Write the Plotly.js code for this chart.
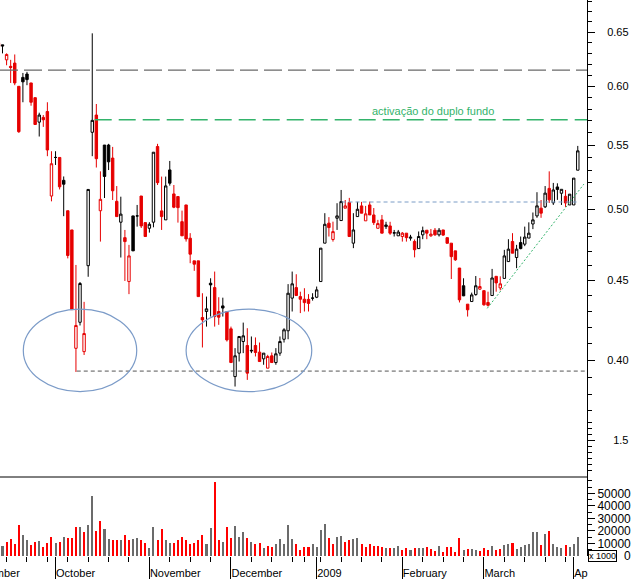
<!DOCTYPE html>
<html><head><meta charset="utf-8">
<script src="https://cdn.plot.ly/plotly-3.0.1.min.js"></script>
<style>html,body{margin:0;padding:0;background:#fff;}#chart{width:633px;height:579px;}</style>
</head><body><div id="chart"></div>
<script>
// trading days
const dates = [
'2008-09-11','2008-09-12','2008-09-15','2008-09-16','2008-09-17','2008-09-18','2008-09-19','2008-09-22','2008-09-23','2008-09-24','2008-09-25','2008-09-26','2008-09-29','2008-09-30',
'2008-10-01','2008-10-02','2008-10-03','2008-10-06','2008-10-07','2008-10-08','2008-10-09','2008-10-10','2008-10-13','2008-10-14','2008-10-15','2008-10-16','2008-10-17','2008-10-20','2008-10-21','2008-10-22','2008-10-23','2008-10-24','2008-10-27','2008-10-28','2008-10-29','2008-10-30','2008-10-31',
'2008-11-03','2008-11-04','2008-11-05','2008-11-06','2008-11-07','2008-11-10','2008-11-11','2008-11-12','2008-11-13','2008-11-14','2008-11-17','2008-11-18','2008-11-19','2008-11-20','2008-11-21','2008-11-24','2008-11-25','2008-11-26','2008-11-27','2008-11-28',
'2008-12-01','2008-12-02','2008-12-03','2008-12-04','2008-12-05','2008-12-08','2008-12-09','2008-12-10','2008-12-11','2008-12-12','2008-12-15','2008-12-16','2008-12-17','2008-12-18','2008-12-19','2008-12-22','2008-12-23','2008-12-24','2008-12-29','2008-12-30','2008-12-31',
'2009-01-02','2009-01-05','2009-01-06','2009-01-07','2009-01-08','2009-01-09','2009-01-12','2009-01-13','2009-01-14','2009-01-15','2009-01-16','2009-01-19','2009-01-20','2009-01-21','2009-01-22','2009-01-23','2009-01-26','2009-01-27','2009-01-28','2009-01-29','2009-01-30',
'2009-02-02','2009-02-03','2009-02-04','2009-02-05','2009-02-06','2009-02-09','2009-02-10','2009-02-11','2009-02-12','2009-02-13','2009-02-16','2009-02-17','2009-02-18','2009-02-19','2009-02-20','2009-02-23','2009-02-24','2009-02-25','2009-02-26','2009-02-27',
'2009-03-02','2009-03-03','2009-03-04','2009-03-05','2009-03-06','2009-03-09','2009-03-10','2009-03-11','2009-03-12','2009-03-13','2009-03-16','2009-03-17','2009-03-18','2009-03-19','2009-03-20','2009-03-23','2009-03-24','2009-03-25','2009-03-26','2009-03-27','2009-03-30','2009-03-31',
'2009-04-01','2009-04-02'];

const open = [.640,
.638,.624,.618,.621,.600,.608,.611,.603,.590,.569,
.573,.578,.510,.540,.540,.522,.499,.485,.407,.423,
.405,.460,.5605,.575,.499,.550,.550,.5395,.506,.4906,
.4795,.4493,.4952,.4952,.510,.4903,.4862,.4906,.5488,.4989,
.4923,.5301,.5116,.5096,.4910,.5033,.4791,.4633,.4633,.426,
.4298,.4482,.4453,.4298,.4334,.4298,.4189,.3903,.4041,.4111,
.4087,.4058,.4087,.4047,.4007,.3952,.4025,.3985,.4041,.4125,
.4177,.4384,.4453,.4394,.4377,.4376,.4384,.439,.4493,.4756,
.4899,.4782,.4935,.4918,.5009,.5051,.4756,.4947,.5026,.4916,
.5033,.4959,.4862,.4923,.4874,.4879,.4827,.4808,.4803,.4827,
.4791,.4768,.4718,.4815,.4848,.4808,.4848,.4815,.485,.4795,
.4756,.4702,.4584,.4465,.4345,.4362,.4407,.4443,.4433,.4356,
.4401,.4528,.4451,.4514,.4628,.4768,.4656,.476,.4749,.4792,
.4893,.4952,.5009,.5019,.5158,.5049,.5169,.5121,.5098,.5033,
.5033,.5299];
const high = [.642,
.638,.630,.624,.629,.600,.612,.613,.603,.590,.577,
.575,.586,.545,.545,.540,.525,.499,.485,.4605,.449,
.436,.515,.649,.5845,.529,.550,.551,.5485,.5176,.5095,
.485,.4744,.4952,.5033,.510,.4903,.4906,.5442,.551,.5249,
.5249,.5372,.5184,.5096,.4991,.5033,.4827,.4633,.4633,.4416,
.4394,.4515,.456,.439,.4387,.4298,.4203,.4071,.4142,.4228,
.4193,.4142,.4136,.4105,.4041,.4031,.4045,.4071,.4142,.4193,
.4476,.456,.4542,.4426,.4449,.441,.4416,.446,.4721,.4972,
.4943,.491,.5046,.5146,.507,.5086,.4972,.5056,.5056,.5026,
.5058,.501,.4923,.4959,.4909,.4909,.485,.485,.4835,.4827,
.4815,.4782,.4839,.4874,.4848,.4857,.4864,.4864,.485,.4795,
.4756,.4702,.4584,.4515,.4345,.442,.453,.4517,.4433,.4426,
.4578,.4528,.4528,.4709,.4784,.4827,.4744,.4803,.4874,.4905,
.4977,.5129,.507,.5176,.529,.52,.5197,.5151,.5146,.5114,
.5237,.5493];
const low = [.630,
.630,.619,.603,.601,.560,.586,.601,.583,.567,.557,
.565,.541,.506,.534,.515,.495,.465,.431,.393,.421,
.403,.4525,.541,.532,.4767,.5085,.530,.507,.4947,.4656,
.4497,.441,.4702,.4874,.4864,.4803,.4831,.4869,.5184,.485,
.4923,.5179,.5009,.4903,.4808,.4767,.4617,.4565,.4394,.4075,
.4203,.4266,.4203,.4214,.4266,.4111,.3985,.3846,.3991,.4041,
.3884,.4041,.4021,.3991,.3972,.3952,.3985,.3972,.4025,.4105,
.4125,.4298,.4401,.4288,.4298,.4298,.4368,.4384,.4493,.4756,
.4803,.4767,.485,.4918,.5009,.4803,.4721,.4947,.4972,.4916,
.4959,.4886,.4862,.4827,.4857,.4815,.4803,.4808,.4767,.4767,
.4774,.4657,.4718,.4784,.4784,.4801,.4808,.4803,.4808,.4755,
.451,.4633,.4356,.4397,.4266,.4362,.44,.4438,.4335,.433,
.4401,.4426,.4435,.4514,.4628,.4686,.4583,.4713,.4735,.4792,
.4856,.4938,.4938,.501,.5048,.5033,.5071,.5033,.5018,.5033,
.5033,.5299];
const close = [.636,
.637,.629,.617,.603,.561,.604,.606,.586,.567,.575,
.571,.546,.535,.540,.517,.519,.467,.431,.421,.448,
.416,.515,.5705,.539,.5075,.525,.5365,.514,.4947,.4965,
.4767,.4667,.4702,.4952,.4879,.4803,.4891,.5442,.5202,.4947,
.5177,.5198,.5016,.5013,.4808,.4786,.4679,.461,.4394,.4245,
.4315,.4471,.4266,.4262,.432,.4121,.3985,.4025,.4142,.4146,
.3923,.4055,.4045,.3991,.4041,.4021,.3985,.4037,.4111,.4183,
.4416,.4478,.4401,.4377,.4355,.435,.4384,.4438,.4721,.4891,
.4867,.4838,.4952,.5058,.5026,.4803,.485,.5001,.4972,.4967,
.4959,.4903,.4896,.4827,.4886,.4827,.483,.4835,.4827,.4795,
.4798,.471,.4803,.4845,.4827,.482,.4815,.4848,.4813,.4755,
.4662,.464,.4373,.4399,.4309,.4405,.4465,.446,.4341,.4338,
.4517,.4484,.4478,.4667,.4714,.4686,.4714,.4718,.4799,.4827,
.4923,.5026,.4972,.5122,.5071,.5146,.515,.5151,.5048,.5114,
.5237,.5453];
const volume = [9000,
8000,11400,13600,9600,24700,16500,12800,8500,11400,12000,
6900,10600,15200,10600,11400,15200,14400,14600,23100,23100,
19100,24700,47800,19900,27900,21300,13800,12800,12800,12800,
16700,12800,13600,14100,12800,10600,6100,23100,12800,21500,
12800,10400,10400,12800,15200,12800,9300,10600,12800,16700,
9300,22300,59000,12800,11200,23400,14100,23900,15200,19100,
14400,11200,9600,10600,6100,7700,7200,9600,13800,9600,
24500,13600,9600,4800,7200,7400,9600,7400,20700,25500,
14100,9600,15200,15900,11200,12800,13600,14100,9600,7400,
9300,8000,8000,7400,6600,6100,6400,7700,4800,6400,
4800,6100,6100,6100,7200,5800,4000,8000,3200,6900,
6900,3200,14300,4800,5600,5800,4800,3700,6400,4800,
8000,5000,5600,8800,9600,10400,5600,7400,8500,9600,
19100,19100,9000,17300,19900,9600,7400,6100,8500,6900,
9600,14900];

const monthStarts = ['2008-10-01','2008-11-03','2008-12-01','2009-01-02','2009-02-02','2009-03-02','2009-04-01'];
const monthLabels = ['October','November','December','2009','February','March','Ap'];
const priceTicks = [0.40,0.45,0.50,0.55,0.60,0.65];
const priceTickText = ['0.40','0.45','0.50','0.55','0.60','0.65'];
const priceMinor = [0.38,0.39,0.41,0.42,0.43,0.44,0.46,0.47,0.48,0.49,0.51,0.52,0.53,0.54,0.56,0.57,0.58,0.59,0.61,0.62,0.63,0.64,0.66,0.67,0.68];
const volTicks = [0,10000,20000,30000,40000,50000];
const volTickText = ['\u2007\u2007\u2007\u20070','10000','20000','30000','40000','50000'];
const volMinor = [5000,15000,25000,35000,45000,55000,60000];
const indTicks = [1.5];
const indTickText = ['1.5'];
const indMinor = [1.0,1.1,1.2,1.3,1.4,1.6,1.7,1.8,2.0];

// drawn study levels
const topResist = 0.6145;
const neckline = 0.571;
const doubleBottom = 0.3935;
const consolidation = 0.5055;
const trendFrom = ['2009-03-03', 0.4318];
const trendTo = ['2009-04-02', 0.5191];
const noteText = 'activação do duplo fundo';

const xs = dates.map((d,k)=>k);
const up = close.map((c,k)=> k>0 && c >= close[k-1]);
const sel = (arr, flag) => arr.filter((v,k)=> up[k]===flag);
const idx = d => dates.indexOf(d);
const monthIdx = monthStarts.map(idx);
const dow = dates.map(d => new Date(d+'T00:00:00Z').getUTCDay());
const weekIdx = xs.filter(k => k>0 && dow[k] <= dow[k-1]);

const RED = '#e60000', GREEN = '#33b36b';
function candle(flag, col){
  return {type:'candlestick', x: sel(xs,flag), open: sel(open,flag), high: sel(high,flag),
    low: sel(low,flag), close: sel(close,flag), xaxis:'x', yaxis:'y', whiskerwidth:0,
    increasing:{line:{color:col,width:1}, fillcolor:'#ffffff'},
    decreasing:{line:{color:col,width:1}, fillcolor:col}, hoverinfo:'skip', showlegend:false};
}
const traces = [
  candle(true,'#000000'),
  candle(false,RED),
  {type:'bar', x: xs, y: volume, xaxis:'x', yaxis:'y2', width:0.5,
   marker:{color: xs.map(k=> up[k] ? '#6b6b6b' : '#ff0000'), line:{width:0}}, hoverinfo:'skip'},
  {type:'scatter', x:[], y:[], xaxis:'x', yaxis:'y3', hoverinfo:'skip'}
];

const H = 556; // plot area height
const xr = [0.387, 144.26];
const FAM = 'Liberation Sans, Arial, sans-serif';
const tickFont = {family:FAM, size:11, color:'#000'};
const yCommon = {side:'right', anchor:'x', showline:true, linecolor:'#000', linewidth:1,
  ticks:'outside', ticklen:7, tickcolor:'#000', tickwidth:1, showgrid:false, zeroline:false,
  tickmode:'array', tickfont:tickFont, ticklabelstandoff:10};

const layout = {
  width:633, height:579, margin:{l:0,r:0,t:0,b:23},
  paper_bgcolor:'#fff', plot_bgcolor:'#fff', showlegend:false, hovermode:false,
  font:tickFont, boxgap:0.15, boxmode:'overlay', bargap:0,
  xaxis:{domain:[0,587/633], range:xr, anchor:'y2', rangeslider:{visible:false},
    showgrid:false, zeroline:false, showline:false, ticks:'outside', ticklen:22, tickwidth:1,
    tickcolor:'#000', tickmode:'array', tickvals:monthIdx, ticktext:monthLabels,
    ticklabelposition:'outside right', ticklabelstandoff:7, tickfont:tickFont,
    minor:{tickmode:'array', tickvals:weekIdx, ticks:'outside', ticklen:5, tickcolor:'#000', tickwidth:1, showgrid:false}},
  yaxis: Object.assign({}, yCommon, {domain:[156/H,1], type:'log',
    range:[-(400+258.5)/1554.3, -258.5/1554.3], tickvals:priceTicks, ticktext:priceTickText,
    minor:{tickmode:'array', tickvals:priceMinor, ticks:'outside', ticklen:4, tickcolor:'#000', showgrid:false}}),
  yaxis3: Object.assign({}, yCommon, {domain:[79/H,156/H], range:[0.8833,2.1667],
    tickvals:indTicks, ticktext:indTickText, ticklabelstandoff:16,
    minor:{tickmode:'array', tickvals:indMinor, ticks:'outside', ticklen:4, tickcolor:'#000', showgrid:false}}),
  yaxis2: Object.assign({}, yCommon, {domain:[0,79/H], range:[0,63000],
    tickvals:volTicks, ticktext:volTickText, ticklabelstandoff:0, tickfont:{family:FAM, size:12, color:'#000'},
    minor:{tickmode:'array', tickvals:volMinor, ticks:'outside', ticklen:4, tickcolor:'#000', showgrid:false}}),
  shapes:[
    {type:'line', xref:'x', yref:'y', x0:xr[0], x1:xr[1], y0:topResist, y1:topResist, line:{color:'#6a6a6a', width:1.2, dash:'18px,6px'}},
    {type:'line', xref:'x', yref:'y', x0:23.6, x1:xr[1], y0:neckline, y1:neckline, line:{color:GREEN, width:1.3, dash:'17px,7px'}},
    {type:'line', xref:'x', yref:'y', x0:19.2, x1:xr[1], y0:doubleBottom, y1:doubleBottom, line:{color:'#555', width:1, dash:'4px,3px'}},
    {type:'line', xref:'x', yref:'y', x0:84.1, x1:141.8, y0:consolidation, y1:consolidation, line:{color:'#7a9cc6', width:1, dash:'4px,3px'}},
    {type:'line', xref:'x', yref:'y', x0:idx(trendFrom[0])-0.2, y0:trendFrom[1], x1:idx(trendTo[0])+1.5, y1:trendTo[1], line:{color:GREEN, width:1, dash:'2px,2px'}},
    {type:'circle', xref:'x', yref:'y', x0:6.1, x1:33.9, y0:0.3817, y1:0.4313, line:{color:'#7b9bc8', width:1.2}},
    {type:'circle', xref:'x', yref:'y', x0:46, x1:76.8, y0:0.3817, y1:0.4313, line:{color:'#7b9bc8', width:1.2}},
    {type:'line', xref:'paper', yref:'y2 domain', x0:0, x1:587/633, y0:1, y1:1, line:{color:'#000', width:1}}
  ],
  annotations:[
    {xref:'x', yref:'y', x:106.4, y:Math.log10(0.5785), text:noteText, showarrow:false,
     font:{family:FAM, size:11, color:GREEN}},
    {xref:'paper', yref:'paper', x:-36/633, y:-9/H, xanchor:'left', yanchor:'top', text:'September',
     showarrow:false, font:tickFont},
    {xref:'paper', yref:'paper', x:602/633, y:0, xanchor:'center', yanchor:'middle', text:'x 1000',
     showarrow:false, font:{family:FAM, size:9, color:'#000'},
     bordercolor:'#000', borderwidth:1, borderpad:0, bgcolor:'#fff'}
  ]
};
Plotly.newPlot('chart', traces, layout, {staticPlot:true, displayModeBar:false});
</script></body></html>
